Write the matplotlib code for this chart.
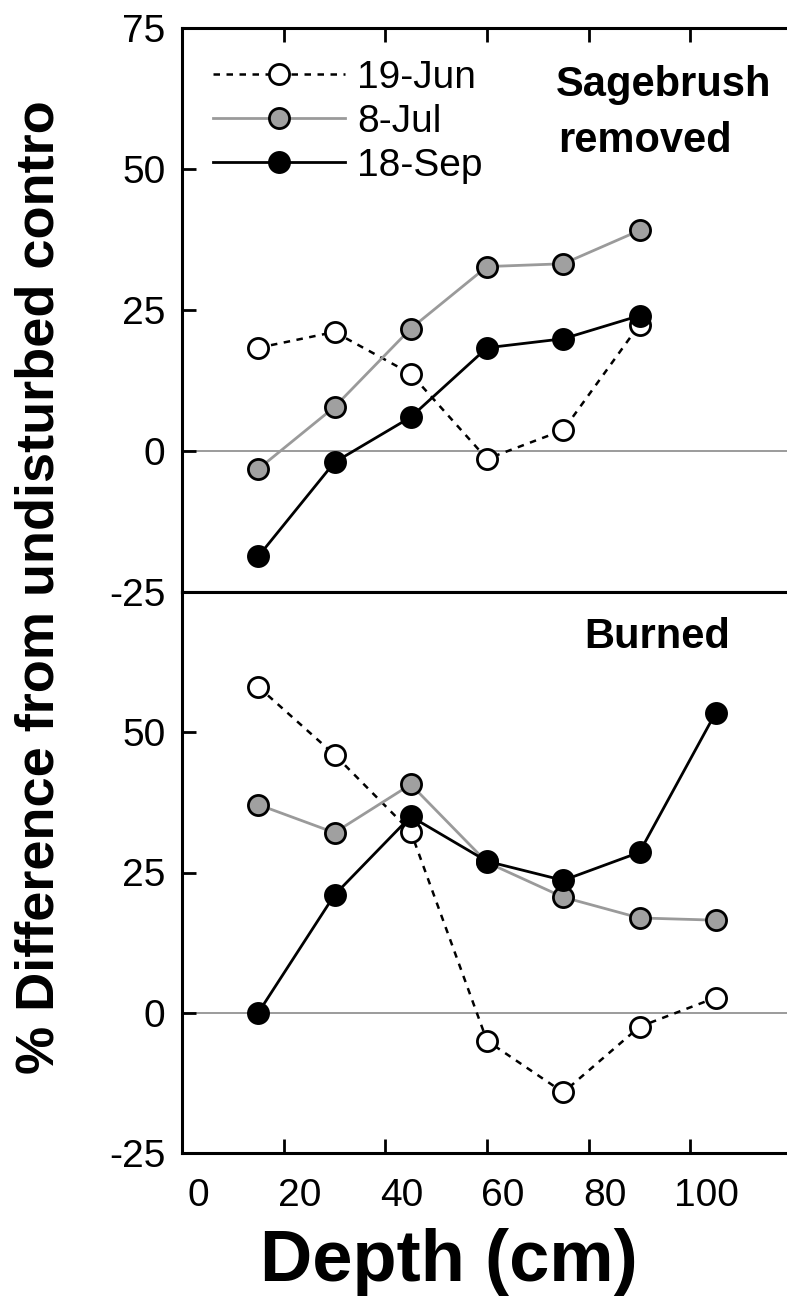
import matplotlib
matplotlib.use("Agg")
import matplotlib.pyplot as plt
from matplotlib.lines import Line2D
from matplotlib.transforms import ScaledTranslation

plt.rcParams['font.family'] = ['Liberation Sans', 'DejaVu Sans']
plt.rcParams['axes.unicode_minus'] = False

# Depth of each measurement (cm)
depth_top = [15, 30, 45, 60, 75, 90]
depth_bottom = [15, 30, 45, 60, 75, 90, 105]

# Sagebrush removed: % difference from undisturbed control
removed_jun19 = [18.3, 21.1, 13.7, -1.4, 3.7, 22.4]
removed_jul8 = [-3.2, 7.8, 21.7, 32.7, 33.2, 39.1]
removed_sep18 = [-18.7, -2.0, 6.0, 18.3, 19.9, 24.0]

# Burned: % difference from undisturbed control
burned_jun19 = [58.1, 46.0, 32.3, -5.0, -14.2, -2.5, 2.7]
burned_jul8 = [37.1, 32.1, 40.7, 26.8, 20.6, 16.9, 16.5]
burned_sep18 = [0.0, 21.0, 35.0, 27.0, 23.6, 28.6, 53.5]

series_labels = ['19-Jun', '8-Jul', '18-Sep']
x_ticks = [0, 20, 40, 60, 80, 100]
y_ticks_top = [-25, 0, 25, 50, 75]
y_ticks_bottom = [-25, 0, 25, 50]

W, H = 787, 1315
fig = plt.figure(figsize=(W / 100, H / 100), dpi=100)

x0 = 182 / W
ax_w = 610 / W
ax_top = fig.add_axes([x0, 1 - 592 / H, ax_w, (592 - 28) / H])
ax_bot = fig.add_axes([x0, 1 - 1153 / H, ax_w, (1153 - 592) / H])

ms = 14.5
mew = 2.0
styles = {
    '19-Jun': dict(color='black', lw=1.8, ls=(0, (2.6, 2.6)), marker='o', ms=ms,
                   mfc='white', mec='black', mew=mew),
    '8-Jul': dict(color='#9a9a9a', lw=2.0, ls='-', marker='o', ms=ms,
                  mfc='#a0a0a0', mec='black', mew=mew),
    '18-Sep': dict(color='black', lw=2.0, ls='-', marker='o', ms=ms,
                   mfc='black', mec='black', mew=mew),
}

def draw_panel(ax, xs, jun, jul, sep):
    ax.axhline(0, color='#808080', lw=1.1, zorder=1)
    for lab, ys in zip(series_labels, [jun, jul, sep]):
        ax.plot(xs, ys, zorder=3, clip_on=False, **styles[lab])
    ax.set_xlim(0, 120)
    ax.set_ylim(-25, 75)
    ax.spines['right'].set_visible(False)
    for s in ['left', 'top', 'bottom']:
        ax.spines[s].set_linewidth(2.2)
    ax.set_xticks(x_ticks)
    ax.tick_params(axis='both', direction='in', length=10, width=2.0,
                   labelsize=28, colors='black')
    ax.tick_params(axis='y', pad=12)

draw_panel(ax_top, depth_top, removed_jun19, removed_jul8, removed_sep18)
draw_panel(ax_bot, depth_bottom, burned_jun19, burned_jul8, burned_sep18)

ax_top.set_yticks(y_ticks_top)
ax_top.tick_params(axis='x', bottom=False, top=True, labelbottom=False)
ax_bot.set_yticks(y_ticks_bottom)
ax_bot.tick_params(axis='x', bottom=True, top=False, labelbottom=True, pad=18)

# depth labels sit a little to the right of their ticks
shift = ScaledTranslation(0.16, 0, fig.dpi_scale_trans)
for lbl in ax_bot.get_xticklabels():
    lbl.set_transform(lbl.get_transform() + shift)

fig.text(556 / W, 1 - 85 / H, 'Sagebrush', fontsize=30, fontweight='bold',
         ha='left', va='center')
fig.text(558 / W, 1 - 141 / H, 'removed', fontsize=30, fontweight='bold',
         ha='left', va='center')
fig.text(730 / W, 1 - 637 / H, 'Burned', fontsize=30, fontweight='bold',
         ha='right', va='center')

handles = [Line2D([], [], **styles[lab]) for lab in series_labels]
ax_top.legend(handles, series_labels, loc='upper left',
              bbox_to_anchor=(213 / W, 1 - 60 / H),
              bbox_transform=fig.transFigure, frameon=False, fontsize=28,
              handlelength=3.4, handletextpad=0.3, labelspacing=0.2,
              borderpad=0, borderaxespad=0)

fig.text(40 / W, 1 - 587 / H, '% Difference from undisturbed contro',
         rotation=90, fontsize=39, fontweight='bold', ha='center', va='center')
fig.text(449 / W, 1 - 1262 / H, 'Depth (cm)', fontsize=52, fontweight='bold',
         ha='center', va='center')

fig.savefig('out.png', dpi=100)
